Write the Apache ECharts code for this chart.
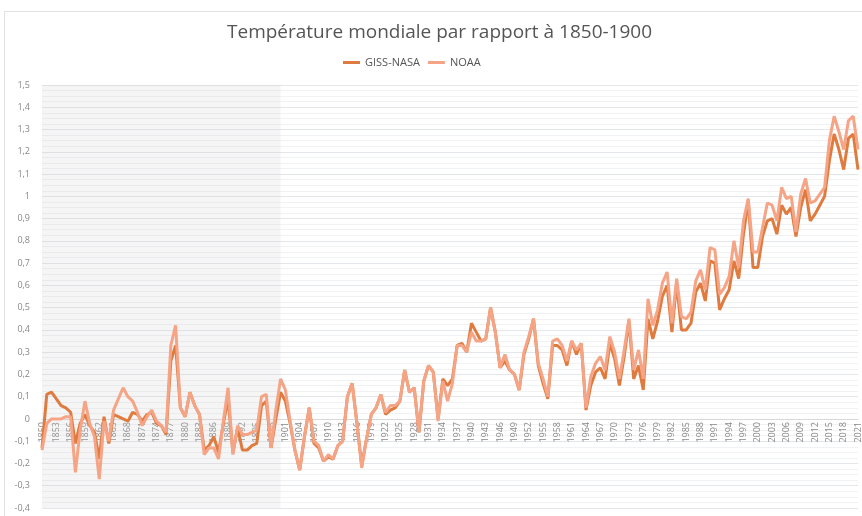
<!DOCTYPE html>
<html>
<head>
<meta charset="utf-8">
<script src="https://cdn.jsdelivr.net/npm/echarts@6/dist/echarts.min.js"></script>
<style>
  html, body { margin: 0; padding: 0; background: #fff; }
  #frame { position: absolute; left: 4px; top: 11px; width: 858px; height: 505px; border-top: 1px solid #e2e2e2; border-left: 1px solid #e2e2e2; }
  #chart { position: absolute; left: 0; top: 0; width: 862px; height: 516px; }
</style>
</head>
<body>
<div id="frame"></div>
<div id="chart"></div>
<script>
// années 1850 → 2021
const years = [];
for (let y = 1850; y <= 2021; y++) years.push(String(y));

// GISS-NASA, écart à 1850-1900 (°C)
const gissNasa = [
  -0.13, 0.11, 0.12, 0.09, 0.06, 0.05, 0.03, -0.11, -0.02, 0.02,   // 1850
  -0.03, -0.06, -0.18, 0.01, -0.11, 0.02, 0.01, 0.00, -0.01, 0.03, // 1860
  0.02, -0.01, 0.02, 0.03, -0.02, -0.03, -0.07, 0.26, 0.33, 0.05,  // 1870
  0.01, 0.12, 0.06, 0.02, -0.14, -0.12, -0.08, -0.15, -0.02, 0.09, // 1880
  -0.15, -0.04, -0.14, -0.14, -0.12, -0.11, 0.06, 0.08, -0.13, 0.00, // 1890
  0.12, 0.08, -0.02, -0.14, -0.23, -0.08, 0.05, -0.11, -0.13, -0.19, // 1900
  -0.17, -0.18, -0.12, -0.10, 0.10, 0.16, -0.02, -0.21, -0.09, 0.02, // 1910
  0.05, 0.11, 0.02, 0.04, 0.05, 0.08, 0.22, 0.12, 0.14, -0.06,      // 1920
  0.17, 0.24, 0.21, 0.00, 0.18, 0.15, 0.18, 0.33, 0.34, 0.30,       // 1930
  0.43, 0.39, 0.35, 0.36, 0.50, 0.39, 0.23, 0.26, 0.22, 0.20,       // 1940
  0.13, 0.29, 0.36, 0.45, 0.24, 0.16, 0.09, 0.33, 0.33, 0.31,       // 1950
  0.24, 0.35, 0.29, 0.34, 0.04, 0.15, 0.21, 0.23, 0.18, 0.34,       // 1960
  0.27, 0.15, 0.28, 0.44, 0.18, 0.24, 0.13, 0.45, 0.36, 0.44,       // 1970
  0.55, 0.60, 0.39, 0.61, 0.40, 0.40, 0.43, 0.57, 0.61, 0.53,       // 1980
  0.71, 0.70, 0.49, 0.54, 0.58, 0.71, 0.63, 0.83, 0.98, 0.68,       // 1990
  0.68, 0.82, 0.89, 0.90, 0.83, 0.96, 0.92, 0.95, 0.82, 0.95,       // 2000
  1.03, 0.89, 0.92, 0.96, 1.00, 1.16, 1.28, 1.21, 1.12, 1.26,       // 2010
  1.28, 1.12                                                        // 2020
];

// NOAA, écart à 1850-1900 (°C)
const noaa = [
  -0.14, -0.02, 0.00, 0.00, 0.00, 0.01, 0.01, -0.24, -0.05, 0.08,  // 1850
  -0.02, -0.08, -0.27, -0.01, -0.10, 0.04, 0.09, 0.14, 0.10, 0.08, // 1860
  0.03, -0.03, 0.01, 0.04, -0.01, -0.03, -0.06, 0.33, 0.42, 0.05,  // 1870
  0.01, 0.12, 0.06, 0.02, -0.16, -0.13, -0.13, -0.18, -0.01, 0.14, // 1880
  -0.16, -0.03, -0.07, -0.07, -0.06, -0.05, 0.10, 0.11, -0.13, 0.04, // 1890
  0.18, 0.13, -0.01, -0.14, -0.23, -0.08, 0.05, -0.10, -0.12, -0.19, // 1900
  -0.16, -0.18, -0.12, -0.10, 0.10, 0.16, -0.02, -0.22, -0.09, 0.02, // 1910
  0.05, 0.11, 0.03, 0.06, 0.06, 0.08, 0.22, 0.12, 0.14, -0.06,      // 1920
  0.17, 0.24, 0.21, -0.01, 0.17, 0.08, 0.16, 0.33, 0.33, 0.30,      // 1930
  0.39, 0.35, 0.35, 0.36, 0.50, 0.39, 0.23, 0.29, 0.22, 0.20,       // 1940
  0.13, 0.30, 0.37, 0.45, 0.25, 0.18, 0.10, 0.35, 0.36, 0.33,       // 1950
  0.26, 0.35, 0.31, 0.34, 0.05, 0.19, 0.25, 0.28, 0.22, 0.37,       // 1960
  0.30, 0.18, 0.31, 0.45, 0.22, 0.31, 0.18, 0.54, 0.42, 0.49,       // 1970
  0.61, 0.66, 0.43, 0.63, 0.46, 0.45, 0.48, 0.62, 0.67, 0.58,       // 1980
  0.77, 0.76, 0.56, 0.59, 0.64, 0.80, 0.68, 0.89, 0.99, 0.75,       // 1990
  0.75, 0.86, 0.97, 0.96, 0.89, 1.04, 0.99, 1.00, 0.84, 1.01,       // 2000
  1.08, 0.97, 0.98, 1.01, 1.04, 1.25, 1.36, 1.29, 1.21, 1.34,       // 2010
  1.36, 1.21                                                        // 2020
];

// période de référence grisée
const refStart = '1850';
const refEnd = '1900';

const chart = echarts.init(document.getElementById('chart'));

const fmt = (v) => {
  const r = Math.round(v * 10) / 10;
  return String(r).replace('.', ',');
};

// grille : haut 85, bas 8 → 423 px pour 1,9 ; la ligne 0 est à 0,4 au-dessus du bas
const gridTop = 85, gridBottom = 8;
const zeroOffset = -Math.round((516 - gridTop - gridBottom) * 0.4 / 1.9);

chart.setOption({
  animation: false,
  textStyle: { fontFamily: '"Open Sans", "Noto Sans", sans-serif' },
  title: {
    text: 'Température mondiale par rapport à 1850-1900',
    left: 222,
    top: 18,
    textStyle: { fontSize: 19, fontWeight: 'normal', color: '#555' }
  },
  legend: {
    top: 52,
    left: 338,
    icon: 'rect',
    itemWidth: 17,
    itemHeight: 3,
    itemGap: 8,
    textStyle: { fontSize: 11, color: '#555' },
    data: ['GISS-NASA', 'NOAA']
  },
  grid: { left: 42, right: 4, top: gridTop, bottom: gridBottom, outerBoundsMode: 'none', containLabel: false },
  xAxis: {
    type: 'category',
    data: years,
    boundaryGap: false,
    offset: zeroOffset,
    axisLine: { onZero: false, lineStyle: { color: '#d8d8d8' } },
    axisTick: { show: false },
    axisLabel: { interval: 2, rotate: 90, fontSize: 9, color: '#888', margin: 3 },
    splitLine: { show: false }
  },
  yAxis: {
    type: 'value',
    min: -0.4,
    max: 1.5,
    interval: 0.1,
    axisLine: { show: false },
    axisTick: { show: false },
    axisLabel: { fontSize: 9, color: '#888', margin: 12, formatter: fmt },
    splitLine: { lineStyle: { color: '#e3e6ea', width: 1 } },
    minorTick: { show: false, splitNumber: 4 },
    minorSplitLine: { show: true, lineStyle: { color: '#f1f2f4', width: 1 } }
  },
  series: [
    {
      name: 'GISS-NASA',
      type: 'line',
      data: gissNasa,
      showSymbol: false,
      lineStyle: { width: 3, color: '#e07b3f' },
      itemStyle: { color: '#e07b3f' },
      markArea: {
        silent: true,
        itemStyle: { color: 'rgba(200,200,200,0.18)' },
        data: [[{ xAxis: refStart }, { xAxis: refEnd }]]
      }
    },
    {
      name: 'NOAA',
      type: 'line',
      data: noaa,
      showSymbol: false,
      lineStyle: { width: 3, color: '#f5a486' },
      itemStyle: { color: '#f5a486' }
    }
  ]
});
</script>
</body>
</html>
